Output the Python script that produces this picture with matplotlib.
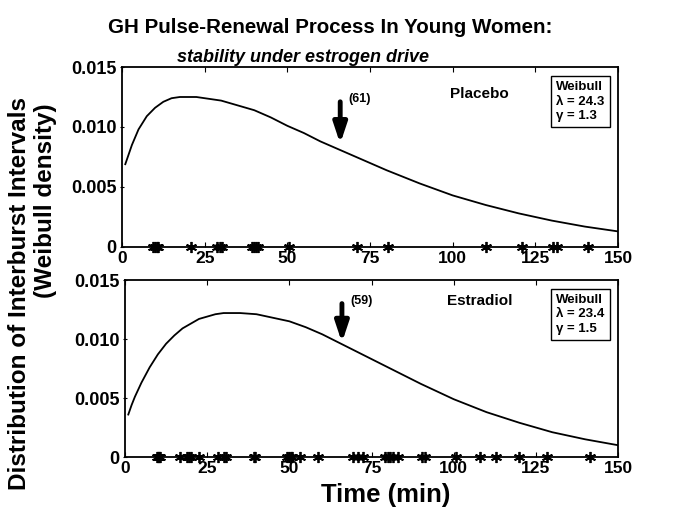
import matplotlib
matplotlib.use("Agg")
import matplotlib.pyplot as plt

plt.rcParams['font.family'] = ['Liberation Sans', 'DejaVu Sans']
plt.rcParams['font.weight'] = 'bold'

# Weibull density curves
placebo_x = [1, 2, 3, 5, 7.5, 10, 12.5, 15, 17.5, 20, 22.5, 25, 30, 35, 40, 45,
             50, 55, 60, 65, 70, 75, 80, 90, 100, 110, 120, 130, 140, 150]
placebo_y = [0.0069, 0.0077, 0.0085, 0.0098, 0.0109, 0.0116, 0.0121, 0.0124,
             0.0125, 0.0125, 0.0125, 0.0124, 0.0122, 0.0118, 0.0114, 0.0108,
             0.0101, 0.0095, 0.0088, 0.0082, 0.0076, 0.0070, 0.0064, 0.0053,
             0.0043, 0.0035, 0.0028, 0.0022, 0.0017, 0.0013]

estradiol_x = [1, 2, 3, 5, 7.5, 10, 12.5, 15, 17.5, 20, 22.5, 25, 27.5, 30, 32.5,
               35, 40, 45, 50, 55, 60, 65, 70, 75, 80, 90, 100, 110, 120, 130,
               140, 150]
estradiol_y = [0.0036, 0.0044, 0.0051, 0.0063, 0.0076, 0.0087, 0.0096, 0.0103,
               0.0109, 0.0113, 0.0117, 0.0119, 0.0121, 0.0122, 0.0122, 0.0122,
               0.0121, 0.0118, 0.0115, 0.0110, 0.0104, 0.0097, 0.0090, 0.0083,
               0.0076, 0.0062, 0.0049, 0.0038, 0.0029, 0.0021, 0.0015, 0.0010]

# observed interburst intervals (asterisks on the axis)
placebo_obs = [9.5, 10, 10.5, 11, 21, 28.8, 29.5, 30.3, 39.2, 40, 40.5, 41,
               50.5, 71, 80.5, 110, 121, 130.5, 131.5, 141]
estradiol_obs = [9.7, 10, 10.3, 10.6, 16.7, 19, 19.6, 20.2, 22.6, 28.2, 30,
                 30.8, 39.2, 39.6, 49.4, 50, 50.4, 50.8, 53.3, 58.6, 69.4, 70.8,
                 72.5, 79, 80, 80.7, 81.4, 83.2, 90.5, 91.3, 100.7, 108, 113,
                 119.8, 128.4, 141.6]

panels = [
    dict(name="Placebo", x=placebo_x, y=placebo_y, obs=placebo_obs,
         lam="24.3", gam="1.3", label="(61)", arrow_x=66,
         arrow=(0.0121, 0.0086), name_y=0.85),
    dict(name="Estradiol", x=estradiol_x, y=estradiol_y, obs=estradiol_obs,
         lam="23.4", gam="1.5", label="(59)", arrow_x=66,
         arrow=(0.0130, 0.0097), name_y=0.88),
]

fig = plt.figure(figsize=(6.88, 5.15), dpi=100)
ax1 = fig.add_axes([0.1773, 0.5204, 0.7209, 0.3495])
ax2 = fig.add_axes([0.1817, 0.1126, 0.7166, 0.3437])

for ax, p in zip([ax1, ax2], panels):
    ax.plot(p["x"], p["y"], color="black", lw=1.3)
    ax.plot(p["obs"], [0] * len(p["obs"]), linestyle="none", marker=(6, 2, 0),
            color="black", markersize=8, markeredgewidth=1.3, clip_on=False,
            zorder=5)
    ax.set_xlim(0, 150)
    ax.set_ylim(0, 0.015)
    ax.set_xticks([0, 25, 50, 75, 100, 125, 150])
    ax.set_yticks([0, 0.005, 0.010, 0.015])
    ax.set_yticklabels(["0", "0.005", "0.010", "0.015"])
    ax.tick_params(axis="x", direction="in", top=True, labelsize=12.5, pad=3)
    ax.tick_params(axis="y", direction="inout", labelsize=13, pad=2)
    for lab in ax.get_xticklabels() + ax.get_yticklabels():
        lab.set_fontweight("bold")
    for s in ax.spines.values():
        s.set_linewidth(1.3)

    ax.text(0.72, p["name_y"], p["name"], transform=ax.transAxes, fontsize=11,
            fontweight="bold", ha="center", va="center")
    ax.text(0.875, 0.92, "Weibull\n\u03bb = " + p["lam"] + "\n\u03b3 = " + p["gam"],
            transform=ax.transAxes, fontsize=9.5, fontweight="bold",
            ha="left", va="top", linespacing=1.25,
            bbox=dict(boxstyle="square,pad=0.4", fc="white", ec="black", lw=1))
    ax.annotate("", xy=(p["arrow_x"], p["arrow"][1]),
                xytext=(p["arrow_x"], p["arrow"][0]),
                arrowprops=dict(arrowstyle="-|>,head_width=0.4,head_length=1.2",
                                lw=3.5, color="black", shrinkA=0, shrinkB=0))
    ax.text(p["arrow_x"] + 2.5, p["arrow"][0] + 0.0002, p["label"], fontsize=9,
            fontweight="bold", ha="left", va="center")

fig.text(0.561, 0.026, "Time (min)", fontsize=18.5, fontweight="bold",
         ha="center", va="baseline")

fig.text(0.48, 0.946, "GH Pulse-Renewal Process In Young Women:",
         fontsize=14.8, fontweight="bold", ha="center", va="center")
fig.text(0.44, 0.889, "stability under estrogen drive", fontsize=13,
         fontweight="bold", style="italic", ha="center", va="center")
fig.text(0.029, 0.43, "Distribution of Interburst Intervals", fontsize=17.5,
         fontweight="bold", rotation=90, ha="center", va="center")
fig.text(0.066, 0.61, "(Weibull density)", fontsize=17.5,
         fontweight="bold", rotation=90, ha="center", va="center")

fig.savefig("out.png", dpi=100)
